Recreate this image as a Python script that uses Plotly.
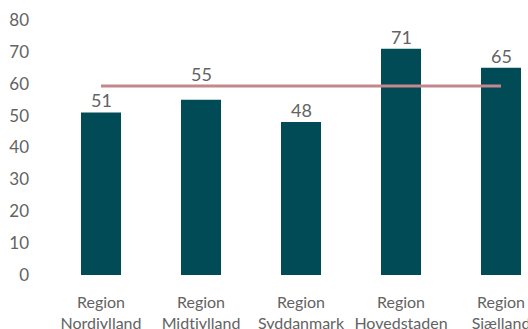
import plotly.graph_objects as go

# Regional values and the national reference level
regions = ["Region<br>Nordjylland", "Region<br>Midtjylland", "Region<br>Syddanmark",
           "Region<br>Hovedstaden", "Region<br>Sjælland"]
values = [51, 55, 48, 71, 65]
national = [59.3, 59.3, 59.3, 59.3, 59.3]
label_shift = [12, 26, 12, 12, 12]  # pixels above bar top; 55 is lifted clear of the line

BAR = "#004B55"
LINE = "#C4878B"
TEXT = "#636363"
FONT = "Lato, Calibri, Open Sans, sans-serif"

fig = go.Figure()
fig.add_trace(go.Bar(x=regions, y=values, marker=dict(color=BAR, line=dict(width=0)),
                     width=0.4, showlegend=False, hoverinfo="skip"))
fig.add_trace(go.Scatter(x=regions, y=national, mode="lines",
                         line=dict(color=LINE, width=3), showlegend=False, hoverinfo="skip"))

for r, v, s in zip(regions, values, label_shift):
    fig.add_annotation(x=r, y=v, text=str(v), showarrow=False, yanchor="middle",
                       yshift=s, font=dict(family=FONT, size=18, color=TEXT))

fig.update_layout(
    width=528, height=329,
    margin=dict(l=51, r=0, t=20, b=54),
    paper_bgcolor="white", plot_bgcolor="white",
    font=dict(family=FONT, size=17, color=TEXT),
    xaxis=dict(range=[-0.5, 4.27], showgrid=False, zeroline=False, showline=False,
               ticks="", ticklabelstandoff=16, tickfont=dict(size=16, color=TEXT),
               automargin=False, fixedrange=True),
    yaxis=dict(range=[0, 80], dtick=10, showgrid=False, zeroline=False, showline=False,
               ticks="", ticklabelstandoff=21, tickfont=dict(size=17, color=TEXT),
               automargin=False, fixedrange=True),
)

fig.write_html("out.html", config={"displayModeBar": False})
